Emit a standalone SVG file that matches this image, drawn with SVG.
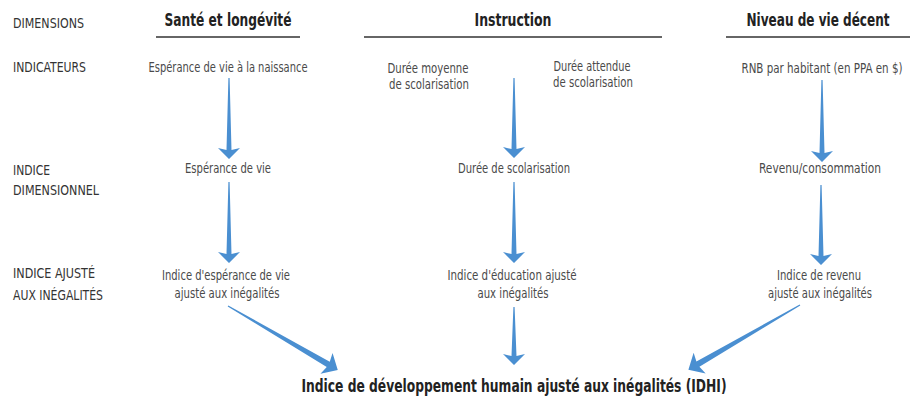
<svg xmlns="http://www.w3.org/2000/svg" width="910" height="400" viewBox="0 0 910 400">
<style>
text{font-family:"DejaVu Sans Condensed","DejaVu Sans","Liberation Sans",sans-serif;font-stretch:condensed;}
.lbl{font-size:14.5px;fill:#333;}
.t{font-size:14px;fill:#4a4a4a;text-anchor:middle;}
.h{font-size:17px;font-weight:bold;fill:#222;text-anchor:middle;}
.title{font-size:17.5px;font-weight:bold;fill:#222;text-anchor:middle;}
.rule{stroke:#333;stroke-width:1.5;}
.arr{fill:#4a8fd1;}
</style>
<rect width="910" height="400" fill="#fff"/>
<g id="row-labels">
<text class="lbl" x="13" y="28" textLength="71" lengthAdjust="spacingAndGlyphs">DIMENSIONS</text>
<text class="lbl" x="13" y="72" textLength="73" lengthAdjust="spacingAndGlyphs">INDICATEURS</text>
<text class="lbl" x="13" y="175" textLength="37" lengthAdjust="spacingAndGlyphs">INDICE</text>
<text class="lbl" x="13" y="195" textLength="86" lengthAdjust="spacingAndGlyphs">DIMENSIONNEL</text>
<text class="lbl" x="13" y="278" textLength="82" lengthAdjust="spacingAndGlyphs">INDICE AJUSTÉ</text>
<text class="lbl" x="13" y="300" textLength="90" lengthAdjust="spacingAndGlyphs">AUX INÉGALITÉS</text>
</g>
<g id="dim-sante">
<text class="h" x="228" y="26" textLength="127" lengthAdjust="spacingAndGlyphs">Santé et longévité</text>
<line class="rule" x1="156" y1="37" x2="300" y2="37"/>
</g>
<g id="dim-instruction">
<text class="h" x="513" y="26" textLength="77" lengthAdjust="spacingAndGlyphs">Instruction</text>
<line class="rule" x1="364" y1="37" x2="662" y2="37"/>
</g>
<g id="dim-niveau">
<text class="h" x="818" y="26" textLength="143" lengthAdjust="spacingAndGlyphs">Niveau de vie décent</text>
<line class="rule" x1="726" y1="37" x2="910" y2="37"/>
</g>
<g id="ind-esperance">
<text class="t" x="228" y="72" textLength="159" lengthAdjust="spacingAndGlyphs">Espérance de vie à la naissance</text>
</g>
<g id="ind-moyenne">
<text class="t" x="428" y="73" textLength="81" lengthAdjust="spacingAndGlyphs">Durée moyenne</text>
<text class="t" x="429" y="89" textLength="80" lengthAdjust="spacingAndGlyphs">de scolarisation</text>
</g>
<g id="ind-attendue">
<text class="t" x="592" y="71" textLength="77" lengthAdjust="spacingAndGlyphs">Durée attendue</text>
<text class="t" x="593" y="87" textLength="80" lengthAdjust="spacingAndGlyphs">de scolarisation</text>
</g>
<g id="ind-rnb">
<text class="t" x="822" y="73" textLength="161" lengthAdjust="spacingAndGlyphs">RNB par habitant (en PPA en $)</text>
</g>
<g id="dimidx-esperance">
<text class="t" x="228" y="173" textLength="86" lengthAdjust="spacingAndGlyphs">Espérance de vie</text>
</g>
<g id="dimidx-scolarisation">
<text class="t" x="514" y="173" textLength="112" lengthAdjust="spacingAndGlyphs">Durée de scolarisation</text>
</g>
<g id="dimidx-revenu">
<text class="t" x="820" y="173" textLength="122" lengthAdjust="spacingAndGlyphs">Revenu/consommation</text>
</g>
<g id="adj-esperance">
<text class="t" x="226" y="280" textLength="128" lengthAdjust="spacingAndGlyphs">Indice d'espérance de vie</text>
<text class="t" x="227" y="298" textLength="105" lengthAdjust="spacingAndGlyphs">ajusté aux inégalités</text>
</g>
<g id="adj-education">
<text class="t" x="512" y="280" textLength="129" lengthAdjust="spacingAndGlyphs">Indice d'éducation ajusté</text>
<text class="t" x="513" y="298" textLength="71" lengthAdjust="spacingAndGlyphs">aux inégalités</text>
</g>
<g id="adj-revenu">
<text class="t" x="819" y="280" textLength="84" lengthAdjust="spacingAndGlyphs">Indice de revenu</text>
<text class="t" x="820" y="298" textLength="104" lengthAdjust="spacingAndGlyphs">ajusté aux inégalités</text>
</g>
<g id="idhi">
<text class="title" x="514" y="392" textLength="425" lengthAdjust="spacingAndGlyphs">Indice de développement humain ajusté aux inégalités (IDHI)</text>
</g>
<g id="connectors" class="arr">
<path transform="translate(229,78)" d="M-0.6,0 L0.6,0 L2.5,72 L11,70 L0,81 L-11,70 L-2.5,72 Z"/>
<path transform="translate(514,78)" d="M-0.6,0 L0.6,0 L2.5,71 L11,69 L0,80 L-11,69 L-2.5,71 Z"/>
<path transform="translate(822,80)" d="M-0.6,0 L0.6,0 L2.5,73 L11,71 L0,82 L-11,71 L-2.5,73 Z"/>
<path transform="translate(229,182)" d="M-0.6,0 L0.6,0 L2.5,72 L11,70 L0,81 L-11,70 L-2.5,72 Z"/>
<path transform="translate(514,182)" d="M-0.6,0 L0.6,0 L2.5,72 L11,70 L0,81 L-11,70 L-2.5,72 Z"/>
<path transform="translate(821,185)" d="M-0.6,0 L0.6,0 L2.5,71 L11,69 L0,80 L-11,69 L-2.5,71 Z"/>
<path transform="translate(514,307)" d="M-0.6,0 L0.6,0 L2.5,49 L11,47 L0,58 L-11,47 L-2.5,49 Z"/>
<path transform="translate(228,306) rotate(-59.8)" d="M-0.6,0 L0.6,0 L3,116 L12,114 L0,127 L-12,114 L-3,116 Z"/>
<path transform="translate(800,305) rotate(59.9)" d="M-0.6,0 L0.6,0 L3,118 L12,116 L0,129 L-12,116 L-3,118 Z"/>
</g>
</svg>
